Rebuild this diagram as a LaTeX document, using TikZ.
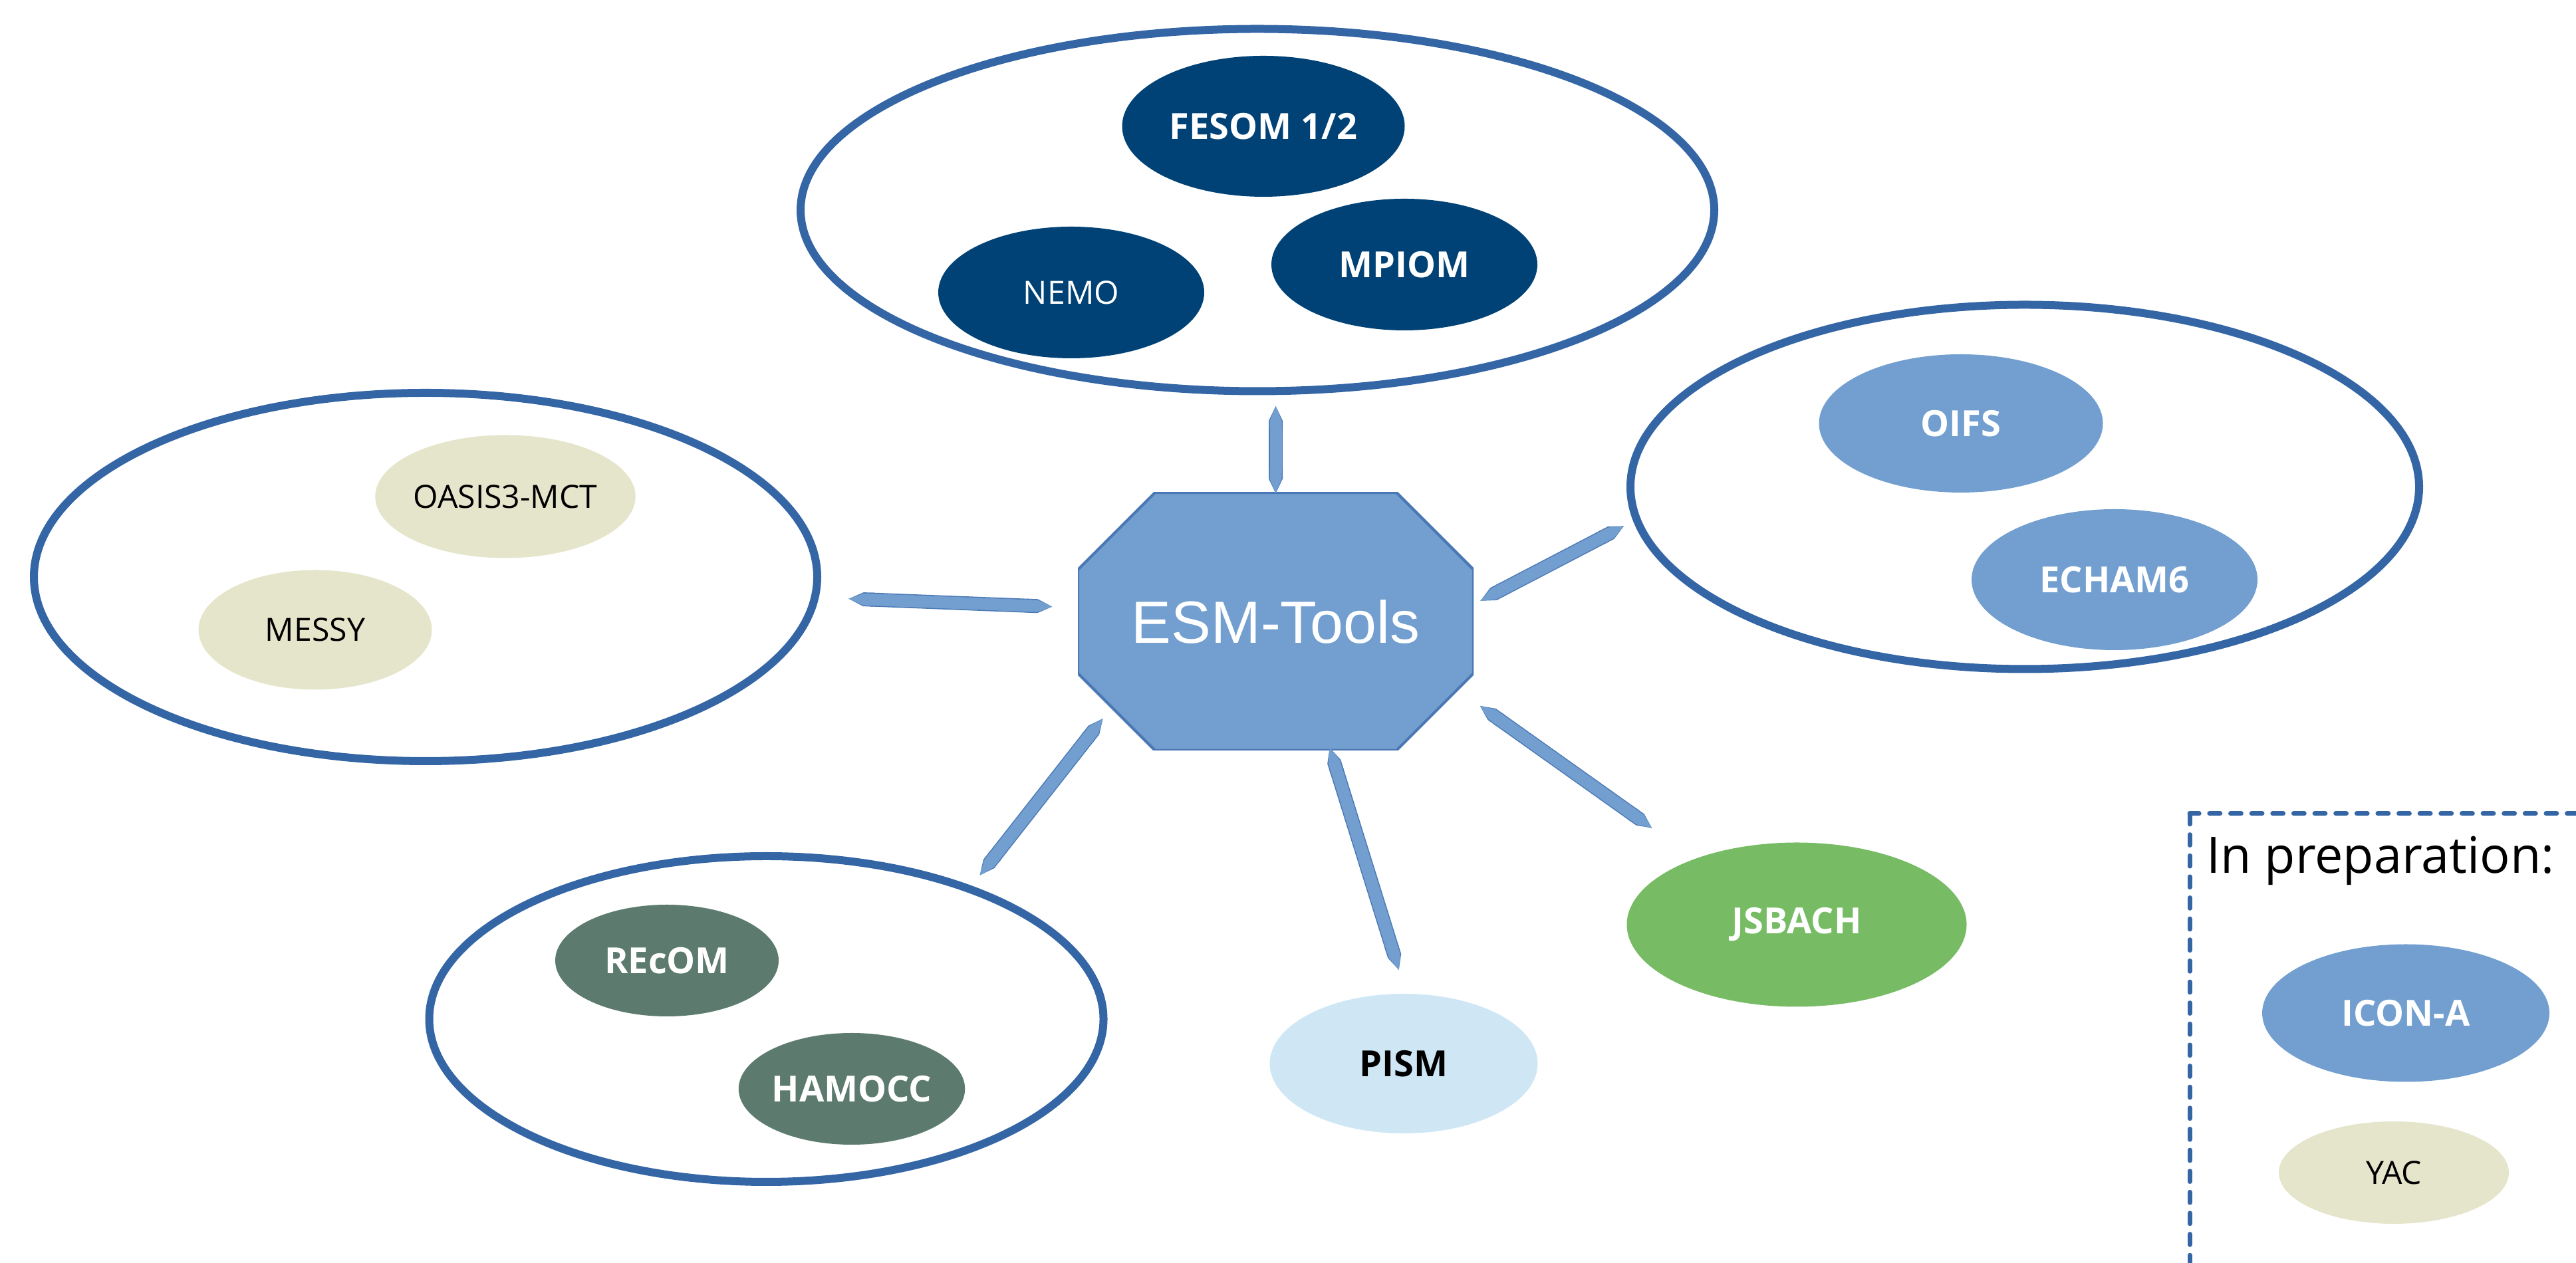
\documentclass[tikz,border=0pt]{standalone}
\usepackage{fontspec}
\setmainfont{Open Sans}
\newfontfamily\hubfont{Liberation Sans}
\usetikzlibrary{shapes.geometric,arrows.meta}

\definecolor{ringblue}{HTML}{3465A4}
\definecolor{midblue}{HTML}{729FCF}
\definecolor{navy}{HTML}{004275}
\definecolor{sage}{HTML}{5C7B6E}
\definecolor{leaf}{HTML}{77BC65}
\definecolor{ice}{HTML}{CFE7F5}
\definecolor{sand}{HTML}{E5E5CC}
\definecolor{spokeedge}{HTML}{4A78B5}

\tikzset{
	realm/.style={draw=ringblue, line width=0.12cm, ellipse, inner sep=0pt},
	modelbold/.style={ellipse, inner sep=0pt, text=white, font=\fontsize{15.4}{18}\selectfont\bfseries},
	modelthin/.style={ellipse, inner sep=0pt, font=\fontsize{13.7}{16}\selectfont},
	hubbox/.style={rectangle, inner sep=0pt, text=white, font={\hubfont\fontsize{25.5}{30}\selectfont},
		path picture={\filldraw[fill=midblue, draw=spokeedge, line width=1.2pt]
			([xshift=1.16cm]path picture bounding box.north west) -- ([xshift=-1.16cm]path picture bounding box.north east)
			-- ([yshift=-1.16cm]path picture bounding box.north east) -- ([yshift=1.16cm]path picture bounding box.south east)
			-- ([xshift=-1.16cm]path picture bounding box.south east) -- ([xshift=1.16cm]path picture bounding box.south west)
			-- ([yshift=1.16cm]path picture bounding box.south west) -- ([yshift=-1.16cm]path picture bounding box.north west) -- cycle;}},
	spoke/.style={draw=midblue, line width=0.18cm, {Triangle Cap[length=0.22cm]}-{Triangle Cap[length=0.22cm]}, preaction={draw=spokeedge, line width=0.21cm}},
}

\begin{document}
\begin{tikzpicture}
	\useasboundingbox (0,0) rectangle (38.74,19.00);
	\node[realm, minimum width=13.74cm, minimum height=5.45cm] (ocean) at (18.91,15.84) {};
	\node[realm, minimum width=11.78cm, minimum height=5.54cm] (coupler) at (6.40,10.32) {};
	\node[realm, minimum width=11.86cm, minimum height=5.48cm] (atmos) at (30.45,11.675) {};
	\node[realm, minimum width=10.14cm, minimum height=4.90cm] (bio) at (11.525,3.67) {};
	\node[modelbold, fill=navy, minimum width=4.25cm, minimum height=2.12cm] (fesom) at (19.00,17.10) {FESOM 1/2};
	\node[modelthin, fill=navy, text=white, minimum width=4.00cm, minimum height=1.98cm] (nemo) at (16.11,14.60) {NEMO};
	\node[modelbold, fill=navy, minimum width=4.00cm, minimum height=1.98cm] (mpiom) at (21.12,15.02) {MPIOM};
	\node[modelbold, fill=midblue, minimum width=4.27cm, minimum height=2.08cm] (oifs) at (29.49,12.63) {OIFS};
	\node[modelbold, fill=midblue, minimum width=4.30cm, minimum height=2.12cm] (echam) at (31.80,10.28) {ECHAM6};
	\node[modelthin, fill=sand, minimum width=3.48cm, minimum height=1.85cm] (oasis) at (7.60,11.53) {OASIS3-MCT};
	\node[modelthin, fill=sand, minimum width=3.51cm, minimum height=1.80cm] (messy) at (4.74,9.525) {MESSY};
	\node[modelbold, fill=sage, minimum width=3.36cm, minimum height=1.68cm] (recom) at (10.03,4.55) {REcOM};
	\node[modelbold, fill=sage, minimum width=3.38cm, minimum height=1.68cm] (hamocc) at (12.81,2.62) {HAMOCC};
	\node[modelbold, fill=ice, text=black, minimum width=4.03cm, minimum height=2.10cm] (pism) at (21.11,3.00) {PISM};
	\node[modelbold, fill=leaf, minimum width=5.11cm, minimum height=2.47cm] (jsbach) at (27.02,5.09) {JSBACH};
	\node[hubbox, minimum width=5.95cm, minimum height=3.88cm] (hub) at (19.185,9.65) {\raisebox{-0.1cm}{ESM-Tools}};
	\draw[spoke, shorten <=-0.02cm, shorten >=0.165cm] (hub.north) -- (hub.north |- ocean.south);
	\draw[spoke, shorten <=0.45cm, shorten >=0.38cm] (coupler.357) -- (hub.176);
	\draw[spoke, shorten <=0.11cm, shorten >=0.16cm] (hub.5) -- (atmos.185);
	\draw[spoke, shorten <=-0.62cm, shorten >=0.2cm] (hub.south west) -- (bio.33);
	\draw[spoke, shorten <=-0.05cm, shorten >=0.37cm] (hub.293) -- (pism.88);
	\draw[spoke, shorten <=0.11cm, shorten >=0.79cm] (hub.338) -- (jsbach.147);
	\draw[ringblue, line width=2pt, dash pattern=on 4.5pt off 4.5pt, line cap=round] (32.93,6.76) rectangle (39.5,-0.5);
	\node[anchor=west, inner sep=0pt, font=\fontsize{21.5}{26}\selectfont] (prep) at (33.18,6.05) {In preparation:};
	\node[modelbold, fill=midblue, minimum width=4.32cm, minimum height=2.07cm] (icon) at (36.18,3.76) {ICON-A};
	\node[modelthin, fill=sand, minimum width=3.46cm, minimum height=1.54cm] (yac) at (36.00,1.36) {YAC};
\end{tikzpicture}
\end{document}
